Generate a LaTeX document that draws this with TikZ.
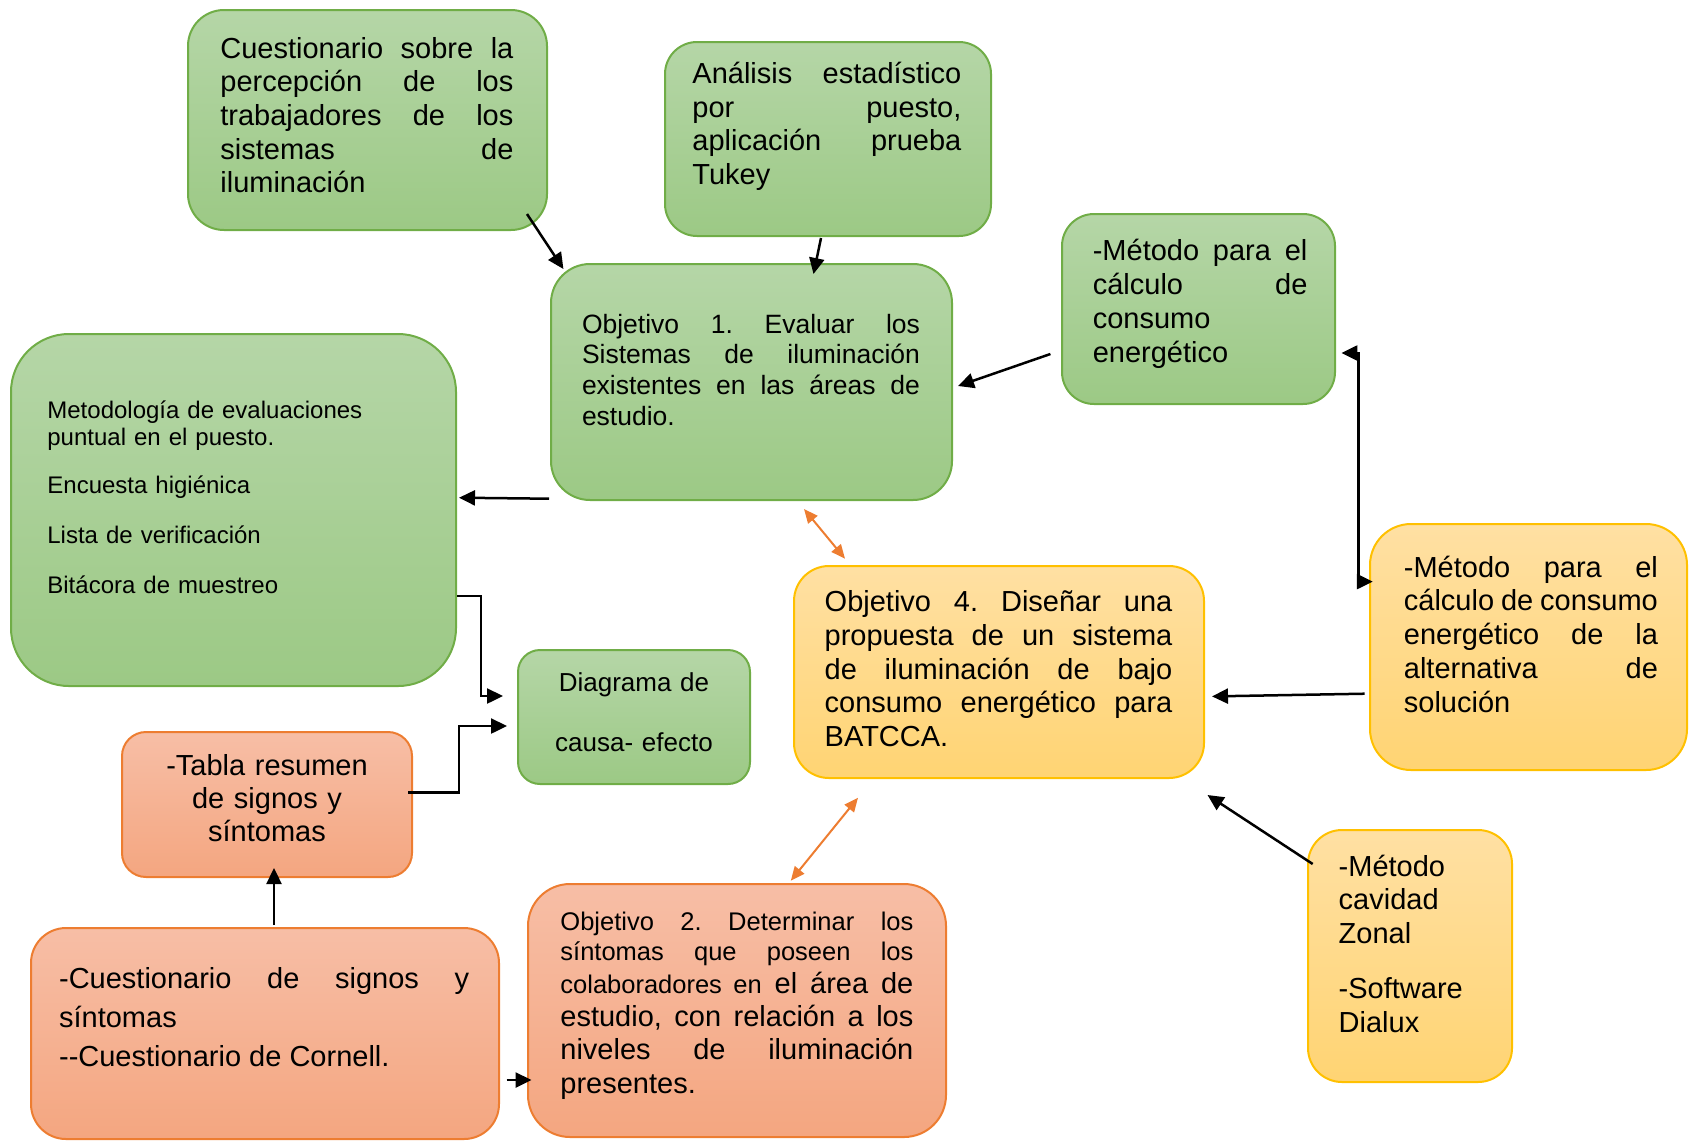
\documentclass[tikz,border=0pt]{standalone}
\usepackage{fontspec}
\setmainfont{Liberation Sans}
\usetikzlibrary{arrows.meta,calc,fit}
\definecolor{gtop}{HTML}{B5D6A7}
\definecolor{gbot}{HTML}{9CC985}
\definecolor{gline}{HTML}{70AD47}
\definecolor{otop}{HTML}{F7BEA6}
\definecolor{obot}{HTML}{F4A680}
\definecolor{oline}{HTML}{ED7D31}
\definecolor{ytop}{HTML}{FFE0A3}
\definecolor{ybot}{HTML}{FFD473}
\definecolor{yline}{HTML}{FFC000}
\tikzset{
  gbox/.style={draw=gline, line width=1pt, top color=gtop, bottom color=gbot, inner sep=0pt},
  obox/.style={draw=oline, line width=1pt, top color=otop, bottom color=obot, inner sep=0pt},
  ybox/.style={draw=yline, line width=1pt, top color=ytop, bottom color=ybot, inner sep=0pt},
  txt/.style={inner sep=0pt, anchor=base west, align=justify,
    execute at begin node={\frenchspacing\hyphenpenalty=10000\exhyphenpenalty=10000\tolerance=10000\hbadness=10000}},
  big/.style={font=\fontsize{14.5pt}{16.85pt}\selectfont},
  arr/.style={line width=1.25pt, -{Triangle[length=8pt,width=7.5pt]}},
  elb/.style={line width=1.2pt, -{Triangle[length=8pt,width=7.5pt]}},
  dbl/.style={line width=1.2pt, {Triangle[length=8pt,width=7.5pt]}-{Triangle[length=8pt,width=7.5pt]}},
  oarr/.style={draw=oline, line width=1pt, {Triangle[length=7pt,width=6pt]}-{Triangle[length=7pt,width=6pt]}, oline}
}
\begin{document}
\begin{tikzpicture}[x=0.5pt,y=-0.5pt]
\useasboundingbox (0,0) rectangle (1689,1141);
% boxes
\node[gbox, rounded corners=18pt, fit={(188,10) (547,230)}] (b1) {};
\node[gbox, rounded corners=16pt, fit={(665,42) (991,236)}] (b2) {};
\node[gbox, rounded corners=19.5pt, fit={(551,264) (952,500)}] (b3) {};
\node[gbox, rounded corners=16pt, fit={(1062,214) (1335,404)}] (b4) {};
\node[gbox, rounded corners=29pt, fit={(11,334) (456,686)}] (b5) {};
\node[gbox, rounded corners=11pt, fit={(518,650) (750,784)}] (b6) {};
\node[ybox, rounded corners=17.5pt, fit={(794,566) (1204,778)}] (b7) {};
\node[ybox, rounded corners=20.5pt, fit={(1370,524) (1687,770)}] (b8) {};
\node[obox, rounded corners=12pt, fit={(122,732) (412,877)}] (b9) {};
\node[obox, rounded corners=17.5pt, fit={(31,928) (499,1139)}] (b10) {};
\node[obox, rounded corners=21pt, fit={(528,884) (946,1137)}] (b11) {};
\node[ybox, rounded corners=17pt, fit={(1308,830) (1512,1082)}] (b12) {};
% texts
\node[txt, big, text width=146.5pt] (t1) at (220,58)
  {Cuestionario sobre la\linebreak percepción de los\linebreak trabajadores de los\linebreak sistemas de\linebreak iluminación};
\node[txt, big, text width=134.5pt] (t2) at (692,83.3)
  {Análisis estadístico\linebreak por puesto,\linebreak aplicación prueba\linebreak Tukey};
\node[txt, text width=169pt, font=\fontsize{13.25pt}{15.3pt}\selectfont] (t3) at (581.6,333.3)
  {Objetivo 1. Evaluar los\linebreak Sistemas de iluminación\linebreak existentes en las áreas de\linebreak estudio.};
\node[txt, text width=107.3pt, font=\fontsize{14.5pt}{17pt}\selectfont] (t4) at (1092.4,260.5)
  {-Método para el\linebreak cálculo de\linebreak consumo\linebreak energético};
\node[txt, align=left, text width=200pt, font=\fontsize{12pt}{13.35pt}\selectfont] (t5) at (47,418.3)
  {Metodología de evaluaciones\\ puntual en el puesto.\\[11pt] Encuesta higiénica\\[11.5pt] Lista de verificación\\[11.5pt] Bitácora de muestreo};
\node[txt, anchor=base, align=center, text width=110pt, font=\fontsize{13pt}{30pt}\selectfont] (t6) at (634,691.7)
  {Diagrama de\\ causa- efecto};
\node[txt, text width=173.85pt, font=\fontsize{14.5pt}{16.9pt}\selectfont] (t7) at (824.3,611.4)
  {Objetivo 4. Diseñar una\linebreak propuesta de un sistema\linebreak de iluminación de bajo\linebreak consumo energético para\linebreak BATCCA.};
\node[txt, text width=127pt, font=\fontsize{14.5pt}{16.95pt}\selectfont] (t8) at (1403.5,577)
  {-Método para el\linebreak cálculo de consumo\linebreak energético de la\linebreak alternativa de\linebreak solución};
\node[txt, anchor=base, align=center, text width=140pt, font=\fontsize{14.5pt}{16.5pt}\selectfont] (t9) at (267,775)
  {-Tabla resumen\\ de signos y\\ síntomas};
\node[txt, text width=205pt, font=\fontsize{14.5pt}{19.6pt}\selectfont] (t10) at (58.7,988.3)
  {-Cuestionario de signos y\linebreak síntomas\linebreak -{}-Cuestionario de Cornell.};
\node[txt, text width=176.5pt, font=\fontsize{12.75pt}{15pt}\selectfont] (t11a) at (560,930)
  {\parfillskip=0pt Objetivo 2. Determinar los\linebreak síntomas que poseen los\par};
\node[txt, text width=176.5pt, font=\fontsize{14.5pt}{16.65pt}\selectfont] (t11b) at (560,993.3)
  {{\fontsize{12.75pt}{15pt}\selectfont colaboradores en} el área de\linebreak estudio, con relación a los\linebreak niveles de iluminación\linebreak presentes.};
\node[txt, align=left, text width=90pt, font=\fontsize{14.5pt}{16.85pt}\selectfont] (t12) at (1338.3,876)
  {-Método\\ cavidad\\ Zonal\\[10.6pt] -Software\\ Dialux};
% connectors
\draw[arr] ($(b1.south east)+(-21,-17)$) -- ($(b3.north west)+(13.4,6)$);
\draw[arr] ($(b2.south)+(-7,1)$) -- ($(b3.north)+(62,11)$);
\draw[arr] ($(b4.west)+(-10.6,45)$) -- ($(b3.east)+(5,4)$);
\draw[arr] ($(b3.south west)+(-1,-2.3)$) -- ($(b5.east)+(2,-12.3)$);
\draw[elb] ($(b5.east)+(0,86)$) -- ++(24,0) |- ($(b6.west)+(-14,-21)$);
\draw[elb] ($(b9.east)+(-5,-12)$) -- ++(51,0) |- ($(b6.west)+(-10,9)$);
\draw[arr] ($(b10.north)+(9,-2)$) -- ($(b9.south)+(7,-10)$);
\draw[arr] ($(b10.east)+(6.7,46.5)$) -- ($(b11.west)+(4.5,69.5)$);
\draw[oarr] ($(b3.south)+(52.5,8)$) -- ($(b7.north)+(-154,-6.3)$);
\draw[oarr] ($(b7.south)+(-141,18.7)$) -- ($(b11.north)+(53.8,-2.3)$);
\draw[arr] ($(b8.west)+(-4.4,46.7)$) -- ($(b7.east)+(7,24.4)$);
\draw[arr] ($(b12.north west)+(5.7,35)$) -- ($(b7.south east)+(2.5,16)$);
\draw[dbl] ($(b4.east)+(5.4,44)$) -- ++(17,0) |- ($(b8.west)+(3.8,-65.4)$);
\end{tikzpicture}
\end{document}
